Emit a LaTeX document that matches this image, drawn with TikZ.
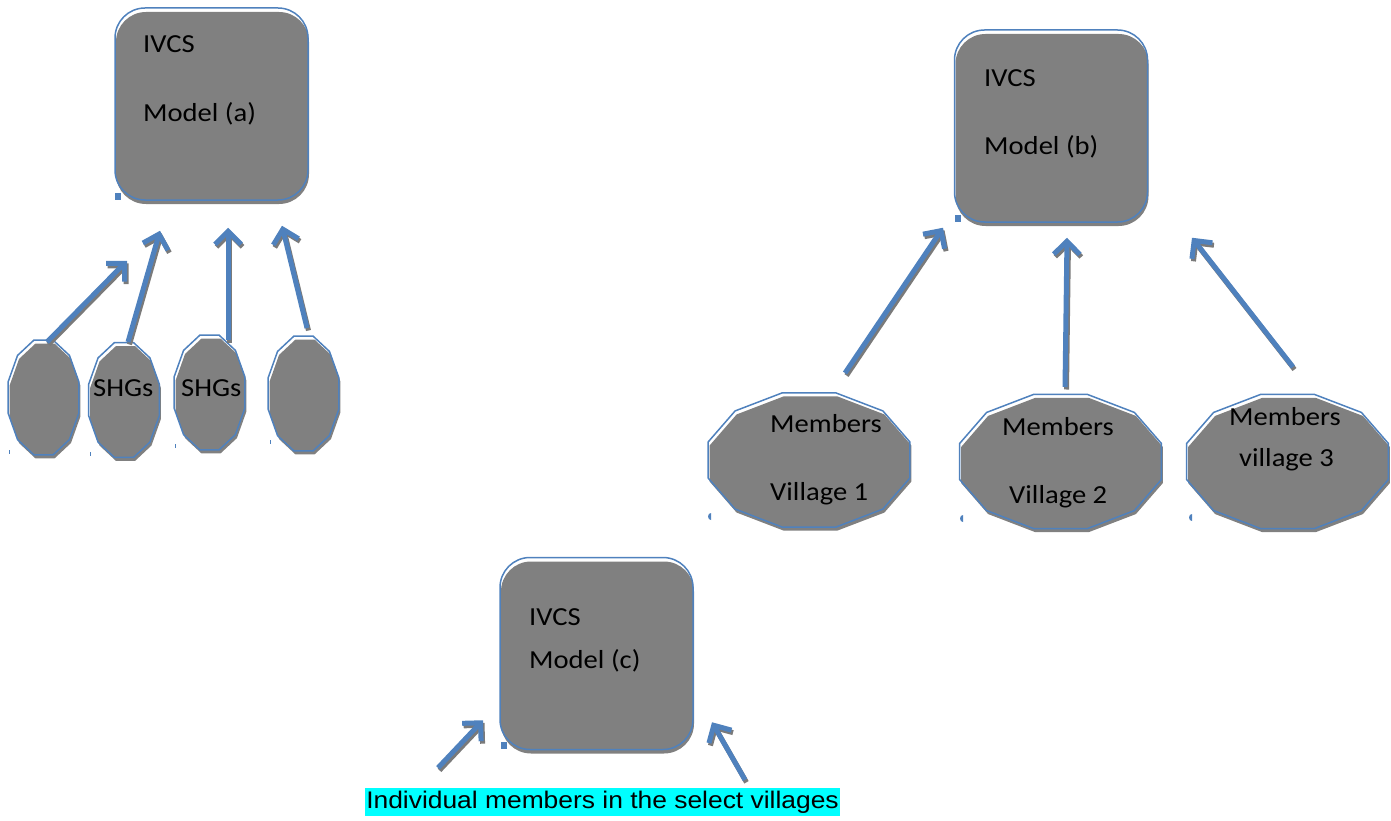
\documentclass[tikz,border=0pt]{standalone}
\usepackage{fontspec}
\setmainfont{Carlito}[FakeStretch=1.1]
\newfontfamily\labelfont{Liberation Sans}[FakeStretch=1.1]
\usetikzlibrary{arrows.meta,calc,shadows}

\definecolor{ivblue}{HTML}{4F81BD}
\definecolor{ivgray}{HTML}{808080}
\definecolor{ivshadow}{HTML}{7A7A7A}
\definecolor{ivcyan}{HTML}{00FFFF}

\tikzset{
  modelbox/.style={draw=ivblue, line width=1.5pt, rounded corners=30pt,
    minimum width=193pt, minimum height=192pt, inner sep=0pt,
    drop shadow={shadow xshift=1pt, shadow yshift=-4pt, fill=ivgray, opacity=1}},
  polyline/.style={draw=ivblue, line width=1.5pt, line join=miter},
  txt/.style={font=\fontsize{26}{30}\selectfont, inner sep=0pt, anchor=base west},
  arrowmain/.style={draw=ivblue, line width=5pt,
    -{Straight Barb[length=13pt,width=26pt]}},
  arrowshadow/.style={draw=ivshadow, line width=5pt,
    -{Straight Barb[length=13pt,width=26pt]}},
  marker/.style={fill=ivblue}
}

% twelve-sided outline with an offset grey fill behind it
\newcommand\dodecagon[3]{%
  \begin{scope}[shift={(#1)}]
    \fill[ivgray, shift={(1.5,3.5)}] (15:#2 and #3)
      \foreach \k in {1,...,11}{ -- ({15+30*\k}:#2 and #3)} -- cycle;
    \draw[polyline] (15:#2 and #3)
      \foreach \k in {1,...,11}{ -- ({15+30*\k}:#2 and #3)} -- cycle;
  \end{scope}}

% arrow with a grey shadow slightly below and to the right
\newcommand\linkarrow[2]{%
  \draw[arrowshadow] ([shift={(1.5,2.5)}]#1) -- ([shift={(1.5,2.5)}]#2);
  \draw[arrowmain] (#1) -- (#2);}

\begin{document}
\begin{tikzpicture}[x=1pt, y=-1pt]
\useasboundingbox (0,0) rectangle (1391,821);

% ---------------- model boxes ----------------
\node[modelbox] (A) at (211.5,104) {};
\node[modelbox] (B) at (1051,126) {};
\node[modelbox] (C) at (596.5,653.5) {};

\node[txt] (A1) at (143,53) {IVCS};
\node[txt] (A2) at (143,122) {Model (a)};
\node[txt] (B1) at (984,87) {IVCS};
\node[txt] (B2) at (984,155) {Model (b)};
\node[txt] (C1) at (529,625) {IVCS};
\node[txt] (C2) at (529,668) {Model (c)};

\fill[marker] (115,193) rectangle (121,200);
\fill[marker] (955,215) rectangle (961,222);
\fill[marker] (501,742) rectangle (507,749);

% ---------------- SHG groups ----------------
\coordinate (s1) at (43.5,397.5);
\coordinate (s2) at (124,400);
\coordinate (s3) at (209.5,392.5);
\coordinate (s4) at (303.5,393.5);
\dodecagon{s1}{36.7}{59.5}
\dodecagon{s2}{36.7}{59.5}
\dodecagon{s3}{36.7}{59.5}
\dodecagon{s4}{36.7}{59.5}
\node[txt] (S2) at (93,396) {SHGs};
\node[txt] (S3) at (181,396) {SHGs};

\fill[marker] (9,450) rectangle (10.2,454);
\fill[marker] (90,452) rectangle (91.2,456);
\fill[marker] (175,444) rectangle (176.2,448);
\fill[marker] (270,440) rectangle (271.2,444);

% ---------------- village members ----------------
\coordinate (m1) at (809,460);
\coordinate (m2) at (1060.5,461.5);
\coordinate (m3) at (1287.5,461.5);
\dodecagon{m1}{104.5}{69.4}
\dodecagon{m2}{104.5}{69.4}
\dodecagon{m3}{104.5}{69.4}
\node[txt] (M1a) at (770,432) {Members};
\node[txt] (M1b) at (770,500) {Village 1};
\node[txt] (M2a) at (1002,435) {Members};
\node[txt] (M2b) at (1009,503) {Village 2};
\node[txt] (M3a) at (1229,425) {Members};
\node[txt] (M3b) at (1239,466) {village 3};

\fill[marker] (711,520) arc (90:270:3 and 3.5) -- cycle;
\fill[marker] (963,522) arc (90:270:3 and 3.5) -- cycle;
\fill[marker] (1192,521) arc (90:270:3 and 3.5) -- cycle;

% ---------------- bottom label ----------------
\node[fill=ivcyan, font=\labelfont\fontsize{24}{28}\selectfont,
      inner xsep=1.5pt, inner ysep=0pt, minimum height=28pt] (L)
      at (602.5,802) {Individual members in the select villages};

% ---------------- arrow ends ----------------
\coordinate (a1t) at ($(s1)+(3.5,-55.5)$);
\coordinate (a1h) at ($(A.south)+(-84.5,60)$);
\coordinate (a2t) at ($(s2)+(4,-58)$);
\coordinate (a2h) at ($(A.south)+(-51.5,30)$);
\coordinate (a3t) at ($(s3)+(18.5,-52.5)$);
\coordinate (a3h) at ($(A.south)+(16.5,27)$);
\coordinate (a4t) at ($(s4)+(3.5,-65.5)$);
\coordinate (a4h) at ($(A.south)+(70.5,25)$);

\coordinate (b1t) at ($(m1)+(36,-87)$);
\coordinate (b1h) at ($(B.south)+(-108,5)$);
\coordinate (b2t) at ($(m2)+(4.5,-74.5)$);
\coordinate (b2h) at ($(B.south)+(16,15)$);
\coordinate (b3t) at ($(m3)+(5.5,-94.5)$);
\coordinate (b3h) at ($(B.south)+(141,15)$);

\coordinate (c1t) at ($(L.north)+(-164.5,-20)$);
\coordinate (c1h) at ($(C.south)+(-113.5,-30)$);
\coordinate (c2t) at ($(L.north)+(142.5,-8)$);
\coordinate (c2h) at ($(C.south)+(115.5,-28)$);

% ---------------- arrows ----------------
\linkarrow{a1t}{a1h}
\linkarrow{a2t}{a2h}
\linkarrow{a3t}{a3h}
\linkarrow{a4t}{a4h}
\linkarrow{b1t}{b1h}
\linkarrow{b2t}{b2h}
\linkarrow{b3t}{b3h}
\linkarrow{c1t}{c1h}
\linkarrow{c2t}{c2h}
\end{tikzpicture}
\end{document}
